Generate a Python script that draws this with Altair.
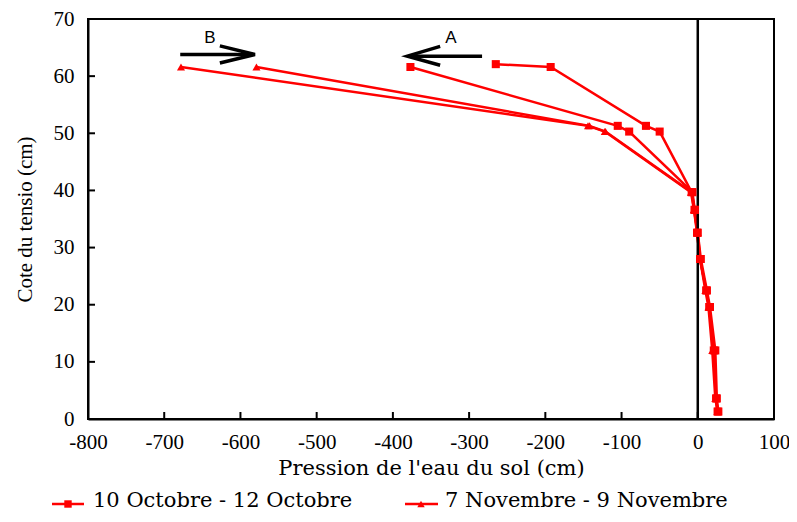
import altair as alt
import pandas as pd

# ---- data ----
series_names = ["10 Octobre - 12 Octobre", "7 Novembre - 9 Novembre"]

# Octobre profile 1 (squares)
oct1_p = [-265, -193, -68, -50, -8, -4, -1, 3, 11, 15, 21, 24, 26]
oct1_z = [62.1, 61.6, 51.3, 50.3, 39.7, 36.6, 32.6, 28.0, 22.5, 19.6, 12.0, 3.6, 1.3]
# Octobre profile 2 (squares)
oct2_p = [-377, -105, -90, -7, -4, 0, 4, 12, 16, 23, 25, 27]
oct2_z = [61.6, 51.3, 50.3, 39.7, 36.6, 32.6, 28.0, 22.5, 19.6, 12.0, 3.6, 1.3]
# Novembre profile 1 (triangles)
nov1_p = [-678, -144, -122, -9, -5, -1, 3, 10, 14, 19, 23, 26]
nov1_z = [61.6, 51.3, 50.3, 39.7, 36.6, 32.6, 28.0, 22.5, 19.6, 12.0, 3.6, 1.3]
# Novembre profile 2 (triangles)
nov2_p = [-579, -142, -121, -8, -5, 0, 3, 11, 15, 21, 24, 26]
nov2_z = [61.6, 51.3, 50.3, 39.7, 36.6, 32.6, 28.0, 22.5, 19.6, 12.0, 3.6, 1.3]

x_ticks = [-800, -700, -600, -500, -400, -300, -200, -100, 0, 100]
y_ticks = [0, 10, 20, 30, 40, 50, 60, 70]

# annotation arrows (data coordinates)
arrowA_shaft_p = [-283, -379]
arrowA_shaft_z = [63.5, 63.5]
arrowA_head_p = [-338, -381, -338]
arrowA_head_z = [65.2, 63.5, 61.9]
arrowB_shaft_p = [-679, -584]
arrowB_shaft_z = [63.8, 63.8]
arrowB_head_p = [-627, -581, -627]
arrowB_head_z = [65.3, 63.8, 62.3]
labels_txt = ["A", "B"]
labels_p = [-324, -640]
labels_z = [66.6, 66.6]

# ---- build tables ----
rows = []
for s, prof, ps, zs in [
    (series_names[0], "o1", oct1_p, oct1_z),
    (series_names[0], "o2", oct2_p, oct2_z),
    (series_names[1], "n1", nov1_p, nov1_z),
    (series_names[1], "n2", nov2_p, nov2_z),
]:
    for i, (p, z) in enumerate(zip(ps, zs)):
        rows.append({"series": s, "profile": prof, "order": i, "p": p, "z": z})
df = pd.DataFrame(rows)

arr_rows = []
for name, ps, zs in [
    ("As", arrowA_shaft_p, arrowA_shaft_z),
    ("Ah", arrowA_head_p, arrowA_head_z),
    ("Bs", arrowB_shaft_p, arrowB_shaft_z),
    ("Bh", arrowB_head_p, arrowB_head_z),
]:
    for i, (p, z) in enumerate(zip(ps, zs)):
        arr_rows.append({"seg": name, "order": i, "p": p, "z": z})
arr_df = pd.DataFrame(arr_rows)
lab_df = pd.DataFrame({"t": labels_txt, "p": labels_p, "z": labels_z})

W, H = 686, 400
RED = "#ff0000"
SERIF = "Liberation Serif"
WIDE_SERIF = "DejaVu Serif"

xscale = alt.Scale(domain=[-800, 100], nice=False, zero=False)
yscale = alt.Scale(domain=[0, 70], nice=False, zero=False)

x_enc = alt.X("p:Q", scale=xscale, axis=alt.Axis(
    values=x_ticks, title="Pression de l'eau du sol (cm)", grid=False,
    ticks=False, tickSize=0, labelPadding=12, titlePadding=5,
    labelExpr="toString(datum.value)",
    labelFont=SERIF, titleFont=WIDE_SERIF, labelFontSize=21, titleFontSize=21,
    titleFontWeight="normal", labelColor="black", titleColor="black",
    domainColor="black", domainWidth=2, labelFlush=False))
y_enc = alt.Y("z:Q", scale=yscale, axis=alt.Axis(
    values=y_ticks, title="Cote du tensio (cm)", grid=False,
    ticks=False, tickSize=0, labelPadding=14, titlePadding=18,
    labelExpr="toString(datum.value)",
    labelFont=SERIF, titleFont=SERIF, labelFontSize=21, titleFontSize=21,
    titleFontWeight="normal", labelColor="black", titleColor="black",
    domainColor="black", domainWidth=2, labelFlush=False))

zero_line = alt.Chart(pd.DataFrame({"p": [0]})).mark_rule(
    color="black", strokeWidth=2.5).encode(x=alt.X("p:Q", scale=xscale))

ytick_marks = alt.Chart(pd.DataFrame({"z": y_ticks})).mark_rule(
    color="black", strokeWidth=2).encode(
    y=alt.Y("z:Q", scale=yscale), x=alt.value(0), x2=alt.value(7))
xtick_marks = alt.Chart(pd.DataFrame({"p": x_ticks})).mark_rule(
    color="black", strokeWidth=2).encode(
    x=alt.X("p:Q", scale=xscale), y=alt.value(H), y2=alt.value(H - 7))

lines = alt.Chart(df).mark_line(color=RED, strokeWidth=2.5).encode(
    x=x_enc, y=y_enc, detail="profile:N", order="order:Q")

points = alt.Chart(df).mark_point(filled=True, color=RED, opacity=1, size=65).encode(
    x=alt.X("p:Q", scale=xscale), y=alt.Y("z:Q", scale=yscale),
    shape=alt.Shape("series:N", scale=alt.Scale(
        domain=series_names, range=["square", "triangle-up"]), legend=None))

arrows = alt.Chart(arr_df).mark_line(color="black", strokeWidth=3.5).encode(
    x=alt.X("p:Q", scale=xscale), y=alt.Y("z:Q", scale=yscale),
    detail="seg:N", order="order:Q")

arrow_labels = alt.Chart(lab_df).mark_text(
    font="Liberation Sans", fontSize=17, color="black", baseline="middle").encode(
    x=alt.X("p:Q", scale=xscale), y=alt.Y("z:Q", scale=yscale), text="t:N")

# ---- manual legend under the plot ----
LEG_TXT_Y = 488
LEG_SYM_Y = 485
leg_df = pd.DataFrame({
    "series": series_names,
    "x0": [-36, 317], "x1": [-4, 350], "xm": [-20, 333], "xt": [5, 357],
})
leg_layers = []
for i, s in enumerate(series_names):
    sub = leg_df[leg_df.series == s]
    x0, x1, xm, xt = [int(sub[c].iloc[0]) for c in ["x0", "x1", "xm", "xt"]]
    leg_layers.append(alt.Chart(sub).mark_rule(color=RED, strokeWidth=2.5).encode(
        x=alt.value(x0), x2=alt.value(x1), y=alt.value(LEG_SYM_Y)))
    leg_layers.append(alt.Chart(sub).mark_point(
        filled=True, color=RED, opacity=1, size=55,
        shape=["square", "triangle-up"][i]).encode(
        x=alt.value(xm), y=alt.value(LEG_SYM_Y)))
    leg_layers.append(alt.Chart(sub).mark_text(
        font=WIDE_SERIF, fontSize=21, color="black", align="left",
        baseline="alphabetic").encode(
        x=alt.value(xt), y=alt.value(LEG_TXT_Y), text="series:N"))

chart = alt.layer(
    lines, zero_line, ytick_marks, xtick_marks, points, arrows, arrow_labels,
    *leg_layers
).properties(
    width=W, height=H,
    autosize=alt.AutoSizeParams(type="none"),
    padding={"left": 80, "top": 11, "right": 15, "bottom": 95},
).configure_view(stroke="black", strokeWidth=2)

chart.save("out.html", embed_options={"renderer": "svg", "actions": False})
